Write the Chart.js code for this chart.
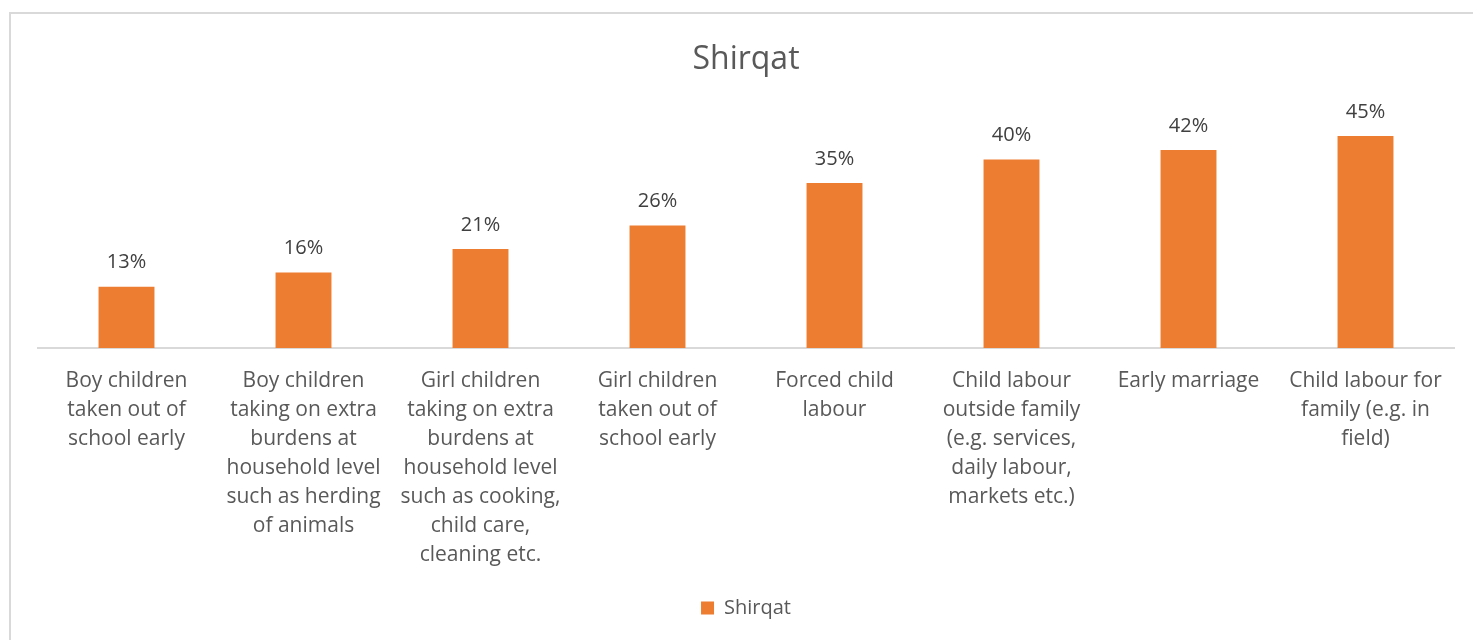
<!DOCTYPE html>
<html>
<head>
<meta charset="utf-8">
<title>Shirqat</title>
<script src="https://cdn.jsdelivr.net/npm/chart.js@4.4.1/dist/chart.umd.min.js"></script>
<style>
    html, body { margin: 0; padding: 0; background: #fff; overflow: hidden; }
    .frame { position: absolute; left: 9px; top: 12px; width: 1480px; height: 650px; border: 2px solid #d9d9d9; box-sizing: border-box; }
    .chart-box { position: absolute; left: 0; top: 0; width: 1473px; height: 640px; }
</style>
</head>
<body>
<div class="frame"></div>
<div class="chart-box"><canvas id="chart"></canvas></div>
<script>
// categories (already wrapped the way the original labels break)
const categories = [
    ['Boy children', 'taken out of', 'school early'],
    ['Boy children', 'taking on extra', 'burdens at', 'household level', 'such as herding', 'of animals'],
    ['Girl children', 'taking on extra', 'burdens at', 'household level', 'such as cooking,', 'child care,', 'cleaning etc.'],
    ['Girl children', 'taken out of', 'school early'],
    ['Forced child', 'labour'],
    ['Child labour', 'outside family', '(e.g. services,', 'daily labour,', 'markets etc.)'],
    ['Early marriage'],
    ['Child labour for', 'family (e.g. in', 'field)']
];
const seriesName = 'Shirqat';
const shirqatValues = [13, 16, 21, 26, 35, 40, 42, 45];

const textColor = '#595959';
const barColor = '#ed7d31';

// draws the percentage above every bar
const valueLabels = {
    id: 'valueLabels',
    afterDatasetsDraw(chart) {
        const ctx = chart.ctx;
        const meta = chart.getDatasetMeta(0);
        ctx.save();
        ctx.font = '20px "Open Sans"';
        ctx.fillStyle = '#404040';
        ctx.textAlign = 'center';
        ctx.textBaseline = 'middle';
        meta.data.forEach((bar, i) => {
            ctx.fillText(shirqatValues[i] + '%', bar.x, bar.y - 24);
        });
        ctx.restore();
    }
};

new Chart(document.getElementById('chart'), {
    type: 'bar',
    data: {
        labels: categories,
        datasets: [{
            label: seriesName,
            data: shirqatValues,
            backgroundColor: barColor,
            borderWidth: 0,
            barPercentage: 1,
            categoryPercentage: 0.316
        }]
    },
    options: {
        responsive: true,
        maintainAspectRatio: false,
        animation: false,
        layout: { padding: { left: 38, right: 19, top: 0, bottom: 12 } },
        plugins: {
            title: {
                display: true,
                text: 'Shirqat',
                color: textColor,
                font: { family: 'Open Sans', size: 32, weight: 'normal' },
                padding: { top: 41, bottom: 33 }
            },
            legend: {
                position: 'bottom',
                labels: {
                    color: textColor,
                    font: { family: 'Open Sans', size: 20 },
                    boxWidth: 13,
                    boxHeight: 13,
                    padding: 10
                }
            },
            tooltip: { enabled: false }
        },
        scales: {
            x: {
                grid: { display: false, drawTicks: false },
                border: { color: '#d9d9d9', width: 2 },
                ticks: {
                    color: textColor,
                    font: { family: 'Open Sans', size: 21, lineHeight: 1.38 },
                    padding: 19,
                    maxRotation: 0,
                    autoSkip: false
                },
                afterFit(scale) { scale.height = 240; }
            },
            y: {
                display: false,
                min: 0,
                max: 50
            }
        }
    },
    plugins: [valueLabels]
});
</script>
</body>
</html>
